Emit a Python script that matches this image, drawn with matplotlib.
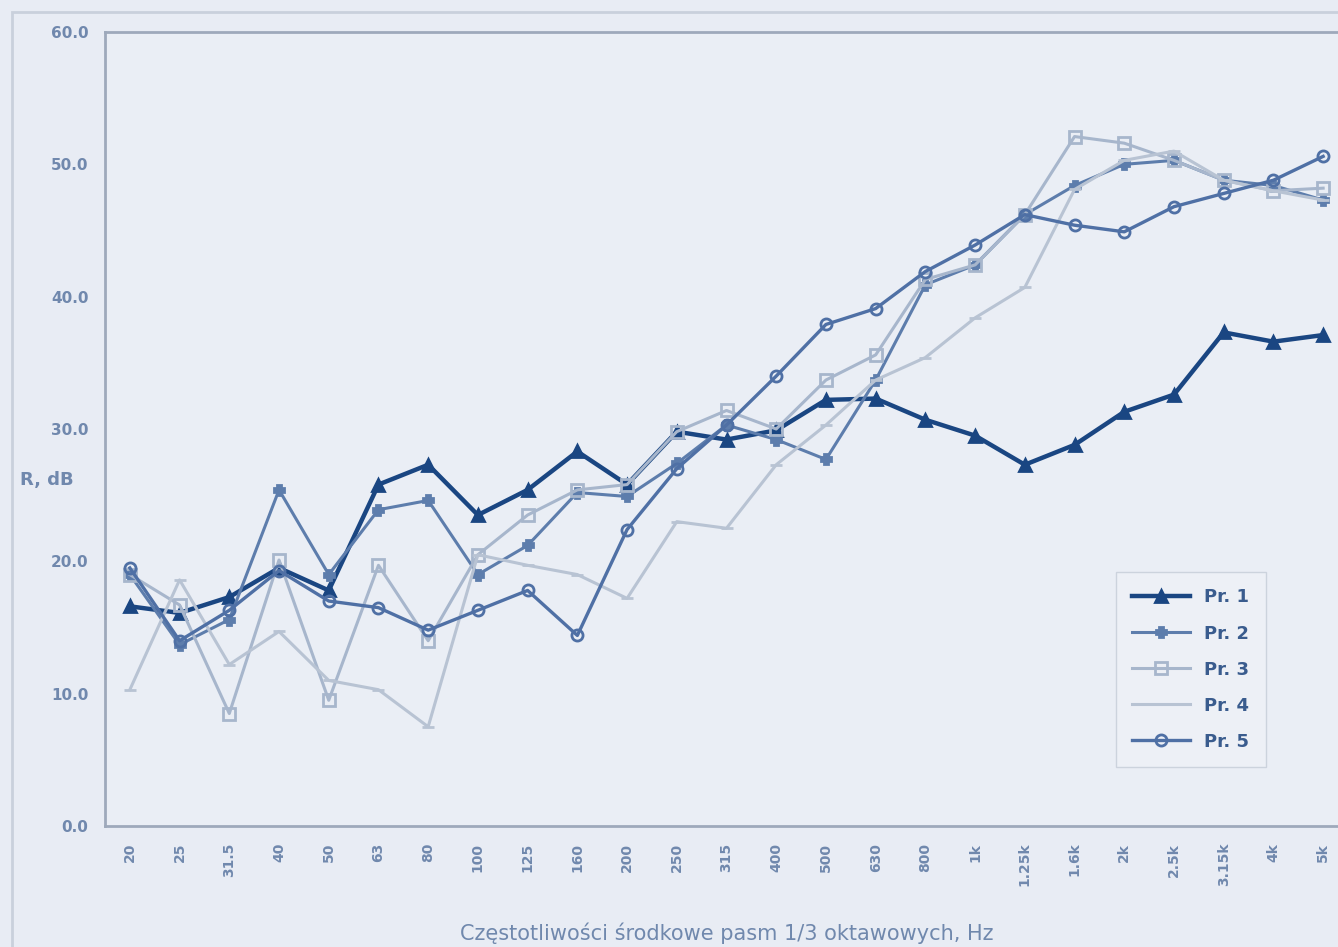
"""
Izolacyjnosc akustyczna R dla probek Pr. 1 - Pr. 5
"""

import matplotlib
matplotlib.use("Agg")
import matplotlib.pyplot as plt
from matplotlib.patches import Rectangle

freqs = ["20", "25", "31.5", "40", "50", "63", "80", "100", "125", "160",
         "200", "250", "315", "400", "500", "630", "800", "1k", "1.25k",
         "1.6k", "2k", "2.5k", "3.15k", "4k", "5k"]

pr1 = [16.6, 16.1, 17.3, 19.5, 17.8, 25.8, 27.3, 23.5, 25.4, 28.3,
       25.8, 29.8, 29.2, 29.9, 32.2, 32.3, 30.7, 29.5, 27.3, 28.8,
       31.3, 32.6, 37.3, 36.6, 37.1]
pr2 = [19.0, 13.7, 15.6, 25.4, 19.0, 23.9, 24.6, 19.0, 21.2, 25.2,
       24.9, 27.4, 30.3, 29.2, 27.7, 33.7, 40.9, 42.4, 46.2, 48.4,
       50.0, 50.3, 48.8, 48.4, 47.3]
pr3 = [19.0, 16.7, 8.5, 20.1, 9.5, 19.7, 14.0, 20.5, 23.5, 25.4,
       25.8, 29.8, 31.4, 30.0, 33.7, 35.6, 41.3, 42.4, 46.2, 52.1,
       51.6, 50.3, 48.8, 48.0, 48.2]
pr4 = [10.3, 18.6, 12.2, 14.7, 11.0, 10.3, 7.5, 20.5, 19.7, 19.0,
       17.2, 23.0, 22.5, 27.3, 30.3, 33.7, 35.4, 38.4, 40.7, 48.1,
       50.3, 51.0, 48.8, 48.0, 47.3]
pr5 = [19.5, 14.0, 16.3, 19.3, 17.0, 16.5, 14.8, 16.3, 17.8, 14.4,
       22.4, 27.0, 30.3, 34.0, 37.9, 39.1, 41.9, 43.9, 46.2, 45.4,
       44.9, 46.8, 47.8, 48.8, 50.6]

names = ["Pr. 1", "Pr. 2", "Pr. 3", "Pr. 4", "Pr. 5"]
series = [pr1, pr2, pr3, pr4, pr5]
colors = ["#1a4682", "#5d7dac", "#a7b6cc", "#b8c3d3", "#4f70a5"]
markers = ["^", "P", "s", "_", "o"]
widths = [3.2, 2.2, 2.2, 2.2, 2.4]
msizes = [8, 7, 9, 8, 8]

bg = "#e8ecf4"
txt = "#7088ad"

fig = plt.figure(figsize=(13.38, 9.47), dpi=100, facecolor=bg)
fig.patches.append(Rectangle((12 / 1338, -0.01), 1.0, 1 - 12 / 947 + 0.01,
                             transform=fig.transFigure, fill=False,
                             edgecolor="#c9d0dc", linewidth=2))

ax = fig.add_axes([105 / 1338, 121 / 947, 1243 / 1338, 794 / 947])
ax.set_facecolor("#eaeef5")

x = list(range(len(freqs)))
for name, vals, c, m, lw, ms in zip(names, series, colors, markers, widths, msizes):
    if m == "s" or m == "o":
        ax.plot(x, vals, "-", color=c, lw=lw, marker=m, ms=ms,
                mfc="none", mec=c, mew=2, label=name)
    else:
        ax.plot(x, vals, "-", color=c, lw=lw, marker=m, ms=ms,
                mec=c, mew=2, label=name)

ax.set_xlim(-0.5, len(freqs) - 0.5)
ax.set_ylim(0, 60)
ax.set_yticks([0, 10, 20, 30, 40, 50, 60])
ax.set_yticklabels(["0.0", "10.0", "20.0", "30.0", "40.0", "50.0", "60.0"],
                   fontsize=11, fontweight="bold", color=txt)
ax.set_xticks(x)
ax.set_xticklabels(freqs, rotation=90, fontsize=10, fontweight="bold",
                   color=txt, va="top")
ax.tick_params(axis="both", length=0, pad=12)

for side in ["left", "bottom", "top"]:
    ax.spines[side].set_color("#9ea9bb")
    ax.spines[side].set_linewidth(2)
ax.spines["right"].set_visible(False)

ax.set_xlabel("Częstotliwości środkowe pasm 1/3 oktawowych, Hz",
              fontsize=15, color=txt, labelpad=26)
fig.text(20 / 1338, 1 - 480 / 947, "R, dB", fontsize=13, fontweight="bold",
         color=txt, ha="left", va="center")

leg = ax.legend(loc="upper left", bbox_to_anchor=(0.806, 0.331),
                fontsize=13, frameon=True, fancybox=False, handlelength=3.2,
                labelspacing=1.0, borderpad=0.9)
leg.get_frame().set_edgecolor("#c5ccd8")
leg.get_frame().set_facecolor("#eef1f7")
for t in leg.get_texts():
    t.set_color("#3a5c8e")
    t.set_fontweight("bold")

fig.savefig("out.png", dpi=100, facecolor=bg)
